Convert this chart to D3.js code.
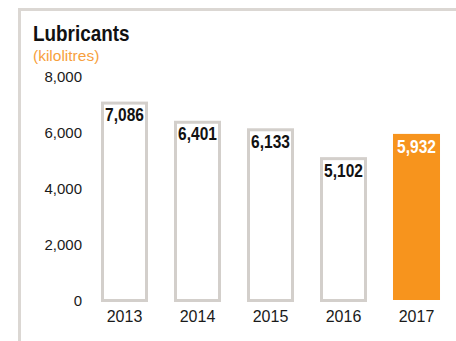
<!DOCTYPE html>
<html lang="en">
<head>
<meta charset="UTF-8">
<title>Lubricants</title>
<script src="https://d3js.org/d3.v7.min.js"></script>
<style>
  body { margin: 0; background: #fff; }
  .tick-label { font-family: "Liberation Sans", Arial, sans-serif; font-size: 15px; fill: #1a1a1a; }
  .year { font-family: "Liberation Sans", Arial, sans-serif; font-size: 16px; fill: #1a1a1a; }
  .value { font-family: "Liberation Sans", Arial, sans-serif; font-weight: bold; font-size: 18.5px; }
</style>
</head>
<body>
<svg id="chart" width="456" height="341"></svg>
<script>
const years = ['2013', '2014', '2015', '2016', '2017'];
const volumes = [7086, 6401, 6133, 5102, 5932];
const yTicks = [0, 2000, 4000, 6000, 8000];
const highlightYear = '2017';

const svg = d3.select('#chart');
const frameColor = '#dbd7d3';
const orange = '#f7941d';
const narrow = 0.84; // squeeze bold text to look like a condensed face

// frame lines (top and left)
svg.append('line')
    .attr('x1', 18).attr('y1', 9.5).attr('x2', 456).attr('y2', 9.5)
    .attr('stroke', frameColor).attr('stroke-width', 3);
svg.append('line')
    .attr('x1', 19.5).attr('y1', 8).attr('x2', 19.5).attr('y2', 341)
    .attr('stroke', frameColor).attr('stroke-width', 3);

// title
svg.append('text')
    .attr('transform', `translate(33,41) scale(${narrow},1)`)
    .attr('font-family', '"Liberation Sans", Arial, sans-serif')
    .attr('font-weight', 'bold').attr('font-size', 22.5)
    .attr('fill', '#111')
    .text('Lubricants');
svg.append('text')
    .attr('x', 33).attr('y', 61)
    .attr('font-family', '"Liberation Sans", Arial, sans-serif')
    .attr('font-size', 15.5)
    .attr('fill', '#f7a03c')
    .text('(kilolitres)');

const x = d3.scaleBand()
    .domain(years)
    .range([88, 453])
    .paddingInner(0.356)
    .paddingOuter(0.178);

const y = d3.scaleLinear()
    .domain([0, 8000])
    .range([300, 76]);

// y tick labels
svg.selectAll('.tick-label')
    .data(yTicks)
    .enter().append('text')
    .attr('class', 'tick-label')
    .attr('x', 82)
    .attr('y', d => y(d))
    .attr('text-anchor', 'end')
    .attr('dominant-baseline', 'central')
    .text(d => d3.format(',')(d));

// bars
const sw = 3;
svg.selectAll('.bar')
    .data(years)
    .enter().append('rect')
    .attr('class', 'bar')
    .attr('x', (d) => d === highlightYear ? x(d) : x(d) + sw / 2)
    .attr('width', (d) => d === highlightYear ? x.bandwidth() : x.bandwidth() - sw)
    .attr('y', (d, i) => d === highlightYear ? y(volumes[i]) : y(volumes[i]) + sw / 2)
    .attr('height', (d, i) => d === highlightYear ? y(0) - y(volumes[i]) : y(0) - y(volumes[i]) - sw / 2 + 0.5)
    .attr('fill', d => d === highlightYear ? orange : '#fff')
    .attr('stroke', d => d === highlightYear ? 'none' : '#d3cfcb')
    .attr('stroke-width', sw);

// value labels
svg.selectAll('.value')
    .data(years)
    .enter().append('text')
    .attr('class', 'value')
    .attr('transform', (d, i) => `translate(${x(d) + x.bandwidth() / 2},${y(volumes[i]) + 19.5}) scale(${narrow},1)`)
    .attr('text-anchor', 'middle')
    .attr('fill', d => d === highlightYear ? '#fff' : '#111')
    .text((d, i) => d3.format(',')(volumes[i]));

// year labels
svg.selectAll('.year')
    .data(years)
    .enter().append('text')
    .attr('class', 'year')
    .attr('x', d => x(d) + x.bandwidth() / 2)
    .attr('y', 322)
    .attr('text-anchor', 'middle')
    .text(d => d);
</script>
</body>
</html>
